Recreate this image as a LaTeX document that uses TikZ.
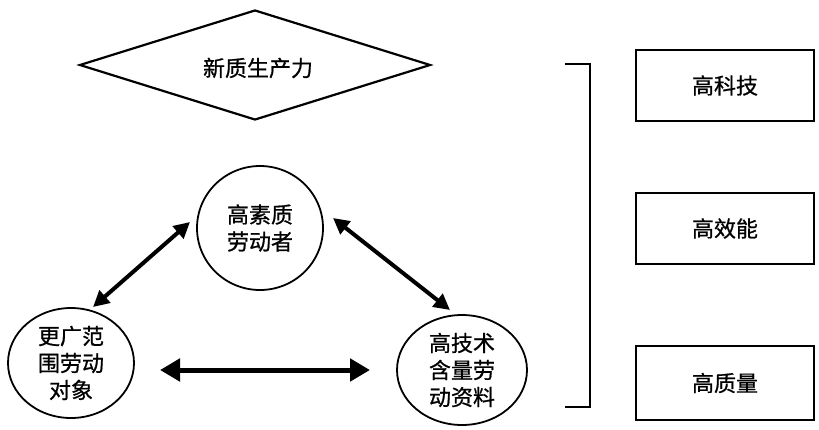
\documentclass[tikz,border=0pt]{standalone}
\usepackage{fontspec}
\setmainfont{Noto Sans CJK SC}[FakeBold=0.8]
\usetikzlibrary{arrows.meta,shapes.geometric}
\begin{document}
\begin{tikzpicture}[x=1pt,y=-1pt,
  txt/.style={font=\fontsize{22}{27}\selectfont, align=center},
  circ/.style={draw, line width=1.8pt, ellipse, inner sep=0pt, txt},
  bx/.style={draw, line width=2.2pt, inner sep=0pt, txt},
  dia/.style={draw, line width=2.2pt, diamond, inner sep=0pt, txt},
  arrd/.style={line width=4pt, {Triangle[length=16pt,width=16pt]}-{Triangle[length=16pt,width=16pt]}},
  arrh/.style={line width=5pt, {Triangle[length=20pt,width=22pt]}-{Triangle[length=20pt,width=22pt]}},
  brk/.style={line width=1.8pt}
]
\useasboundingbox (0,0) rectangle (819,429);
% diamond
\node[dia, minimum width=351pt, minimum height=110pt] (D) at (255,65) {};
\node[txt] (Dt) at (258,68) {新质生产力};
% circles
\node[circ, minimum width=126pt, minimum height=124pt] (T) at (260,228) {高素质\\劳动者};
\node[circ, minimum width=126pt, minimum height=110pt] (L) at (71,363) {更广范\\围劳动\\对象};
\node[circ, minimum width=130pt, minimum height=110pt] (R) at (462,370) {高技术\\含量劳\\动资料};
% arrow end points
\coordinate (a1) at (93,307);
\coordinate (a2) at (190,222);
\coordinate (b1) at (333,218);
\coordinate (b2) at (450,310);
\coordinate (c1) at (160,370);
\coordinate (c2) at (370,370);
\draw[arrd] (a1) -- (a2);
\draw[arrd] (b1) -- (b2);
\draw[arrh] (c1) -- (c2);
% bracket
\coordinate (k1) at (565,64);
\coordinate (k2) at (590,64);
\coordinate (k3) at (590,407);
\coordinate (k4) at (565,407);
\draw[brk] (k1) -- (k2) -- (k3) -- (k4);
% boxes
\node[bx, minimum width=178pt, minimum height=71pt] (B1) at (725,85.5) {高科技};
\node[bx, minimum width=178pt, minimum height=71pt] (B2) at (725,228.5) {高效能};
\node[bx, minimum width=178pt, minimum height=74pt] (B3) at (725,383) {高质量};
\end{tikzpicture}
\end{document}
